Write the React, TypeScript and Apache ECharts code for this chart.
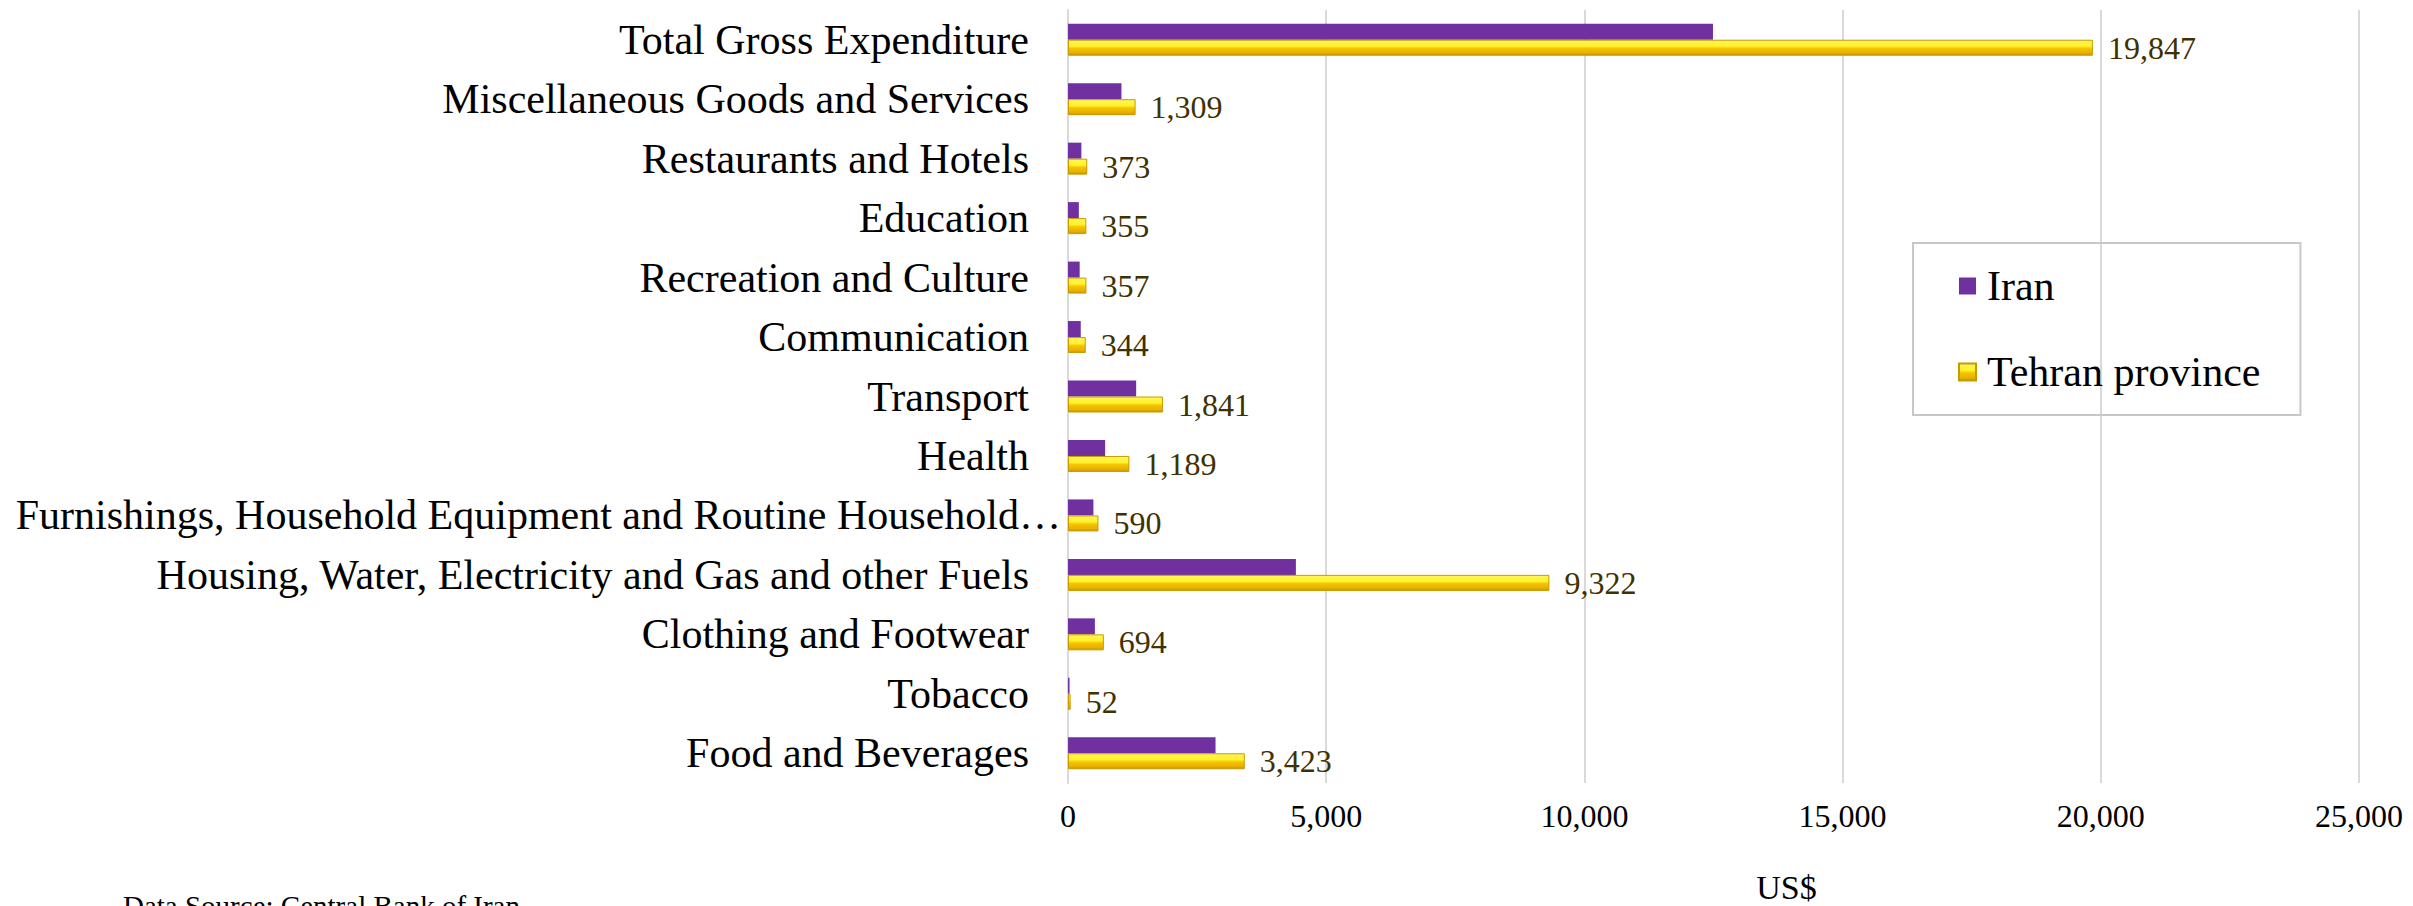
import React, { useEffect, useRef } from 'react';
import * as echarts from 'echarts';

const categories = [
  'Total Gross Expenditure',
  'Miscellaneous Goods and Services',
  'Restaurants and Hotels',
  'Education',
  'Recreation and Culture',
  'Communication',
  'Transport',
  'Health',
  'Furnishings, Household Equipment and Routine Household…',
  'Housing, Water, Electricity and Gas and other Fuels',
  'Clothing and Footwear',
  'Tobacco',
  'Food and Beverages',
];
const iranValues = [12490, 1035, 259, 210, 226, 247, 1320, 719, 492, 4413, 521, 30, 2857];
const tehranValues = [19847, 1309, 373, 355, 357, 344, 1841, 1189, 590, 9322, 694, 52, 3423];
const seriesNames = ['Iran', 'Tehran province'];
const xAxisMin = 0;
const xAxisMax = 25000;
const xAxisInterval = 5000;
const xAxisTitle = 'US$';
const sourceNote = 'Data Source: Central Bank of Iran';

const FONT = '"Liberation Serif", "Times New Roman", serif';
const fmt = (v: number) => Number(v).toLocaleString('en-US');

export default function App() {
  const ref = useRef<HTMLDivElement>(null);
  useEffect(() => {
    document.body.style.margin = '0';
    const chart = echarts.init(ref.current!, null, { renderer: 'svg' });
    const yellow = new echarts.graphic.LinearGradient(0, 0, 0, 1, [
      { offset: 0, color: '#FFF65A' },
      { offset: 0.4, color: '#FFF22A' },
      { offset: 0.55, color: '#F4C400' },
      { offset: 0.85, color: '#E8B000' },
      { offset: 1, color: '#C89400' },
    ]);
    chart.setOption({
      animation: false,
      textStyle: { fontFamily: FONT },
      grid: {
        left: 1068,
        right: 54,
        top: 10,
        bottom: 123,
        containLabel: false,
        outerBoundsMode: 'none',
      },
      legend: {
        orient: 'vertical',
        left: 1913,
        top: 243,
        data: seriesNames,
        icon: 'rect',
        itemWidth: 17,
        itemHeight: 17,
        itemGap: 44,
        padding: [22, 40, 22, 45],
        borderColor: '#c8c8c8',
        borderWidth: 2,
        textStyle: { fontFamily: FONT, fontSize: 42, color: '#000', padding: [0, 0, 0, 6] },
      },
      xAxis: {
        type: 'value',
        min: xAxisMin,
        max: xAxisMax,
        interval: xAxisInterval,
        axisLine: { show: false },
        axisTick: { show: false },
        splitLine: { show: true, lineStyle: { color: '#d9d9d9', width: 2 } },
        axisLabel: {
          fontFamily: FONT,
          fontSize: 32,
          color: '#000',
          margin: 17,
          formatter: (v: number) => fmt(v),
        },
        name: xAxisTitle,
        nameLocation: 'middle',
        nameGap: 87,
        nameTextStyle: { fontFamily: FONT, fontSize: 34, color: '#000', padding: [0, 0, 0, 146] },
      },
      yAxis: {
        type: 'category',
        data: categories,
        inverse: true,
        axisLine: { show: true, lineStyle: { color: '#d9d9d9', width: 2 } },
        axisTick: { show: false },
        axisLabel: {
          fontFamily: FONT,
          fontSize: 42,
          color: '#000',
          margin: 7,
          formatter: (v: string) => (v.endsWith('…') ? `{t|${v}}` : `{n|${v}}`),
          rich: {
            n: { fontFamily: FONT, fontSize: 42, color: '#000', padding: [0, 32, 0, 0] },
            t: { fontFamily: FONT, fontSize: 42, color: '#000', padding: [0, 0, 0, 0] },
          },
        },
      },
      series: [
        {
          name: seriesNames[0],
          type: 'bar',
          data: iranValues,
          barWidth: 16,
          barGap: '0%',
          itemStyle: { color: '#7030A0' },
        },
        {
          name: seriesNames[1],
          type: 'bar',
          data: tehranValues,
          barWidth: 16,
          barGap: '0%',
          itemStyle: { color: yellow, borderColor: '#C99A00', borderWidth: 1 },
          label: {
            show: true,
            position: 'right',
            distance: 15,
            fontFamily: FONT,
            fontSize: 32,
            color: '#3F3100',
            formatter: (p: any) => fmt(p.value),
          },
        },
      ],
      graphic: [
        {
          type: 'text',
          left: 123,
          top: 891,
          style: { text: sourceNote, font: `29px ${FONT}`, fill: '#000' },
        },
      ],
    });
    return () => chart.dispose();
  }, []);
  return <div ref={ref} style={{ width: 2413, height: 906 }} />;
}
